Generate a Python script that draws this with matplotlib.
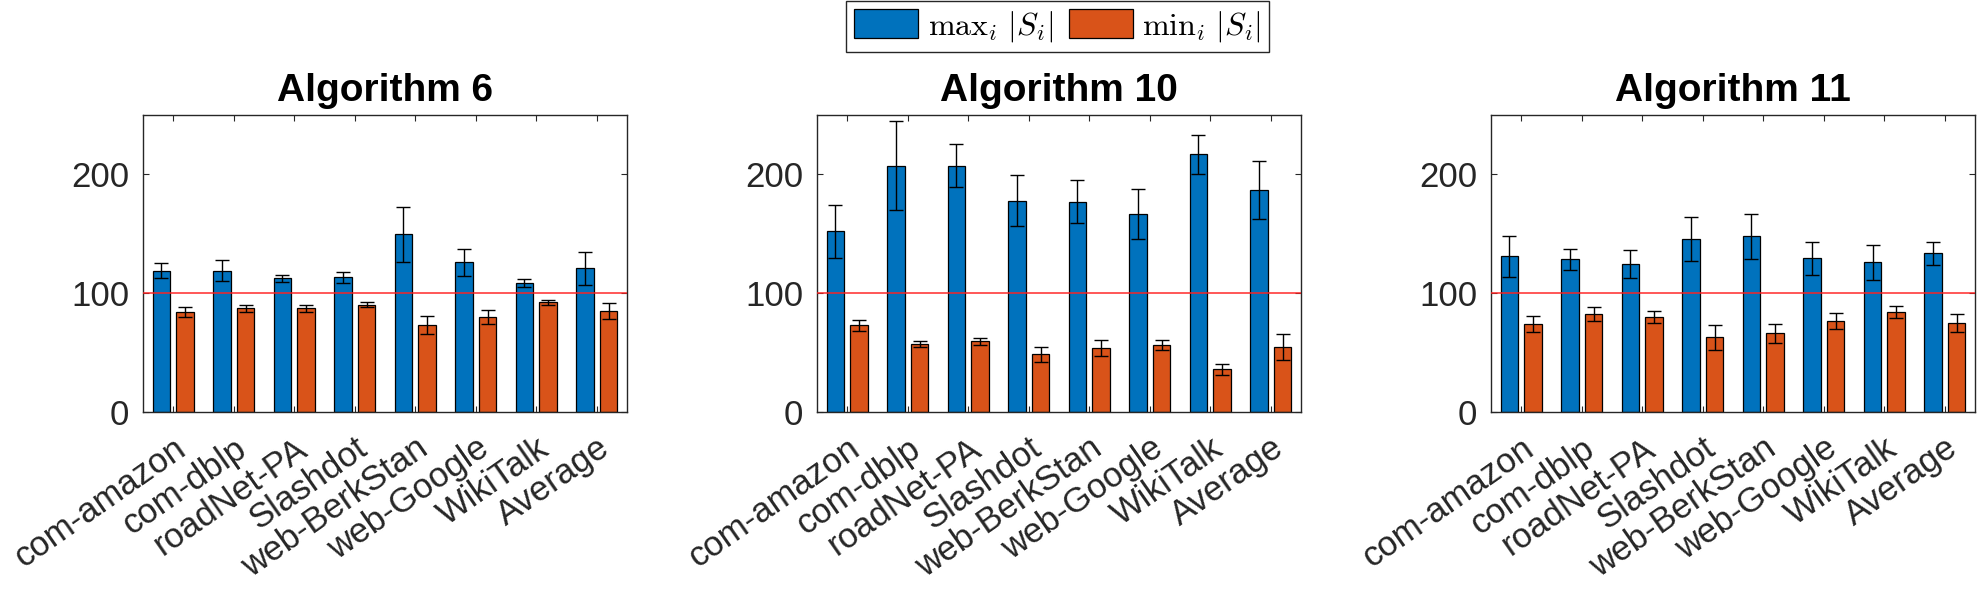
import matplotlib
matplotlib.use('Agg')
import matplotlib.pyplot as plt
import matplotlib.transforms as mtransforms
import numpy as np

plt.rcParams['font.family'] = ['Liberation Sans', 'DejaVu Sans']
plt.rcParams['mathtext.fontset'] = 'cm'

datasets = ['com-amazon', 'com-dblp', 'roadNet-PA', 'Slashdot',
            'web-BerkStan', 'web-Google', 'WikiTalk', 'Average']
titles = ['Algorithm 6', 'Algorithm 10', 'Algorithm 11']

# max_i |S_i| and min_i |S_i| with error bar half-lengths
alg6_max = [119, 119, 112.5, 113.5, 149.5, 126, 108.5, 121]
alg6_max_err = [6.5, 9, 3, 4.5, 23, 11.5, 3.5, 14]
alg6_min = [84, 87.5, 87.5, 90.5, 73, 80, 92.5, 85]
alg6_min_err = [4, 3, 3, 2.5, 7.5, 5.5, 2, 7]

alg10_max = [152, 207.5, 207.5, 178, 177, 167, 217, 187]
alg10_max_err = [22.5, 37.5, 18, 21.5, 18, 21, 16.5, 24.5]
alg10_min = [73, 57, 59.5, 48.5, 54, 56.5, 36, 55]
alg10_min_err = [4.5, 2.5, 3, 6, 7, 4.5, 4.5, 11]

alg11_max = [131, 128.5, 124.5, 145.5, 148, 129.5, 126, 133.5]
alg11_max_err = [17, 9, 11.5, 18.5, 19, 14, 15, 9.5]
alg11_min = [74, 82.5, 80, 63, 66.5, 76.5, 84, 75]
alg11_min_err = [7, 6, 5, 10.5, 8, 7, 5, 7.5]

panels = [(alg6_max, alg6_max_err, alg6_min, alg6_min_err),
          (alg10_max, alg10_max_err, alg10_min, alg10_min_err),
          (alg11_max, alg11_max_err, alg11_min, alg11_min_err)]

blue = '#0072BD'
orange = '#D95319'
axcol = '#262626'

fig = plt.figure(figsize=(19.83, 6), dpi=100)
lefts = [0.0721, 0.412, 0.7519]
x = np.arange(1, len(datasets) + 1)
w = 0.29
off = 0.195

for k in range(3):
    ax = fig.add_axes([lefts[k], 0.3133, 0.2441, 0.495])
    mx, mxe, mn, mne = panels[k]
    b1 = ax.bar(x - off, mx, w, color=blue, edgecolor='black', linewidth=0.9,
                label=r'$\mathrm{max}_i\ |S_i|$', zorder=2)
    b2 = ax.bar(x + off, mn, w, color=orange, edgecolor='black', linewidth=0.9,
                label=r'$\mathrm{min}_i\ |S_i|$', zorder=2)
    ax.errorbar(x - off, mx, yerr=mxe, fmt='none', ecolor='black', elinewidth=1,
                capsize=5, capthick=1, zorder=3)
    ax.errorbar(x + off, mn, yerr=mne, fmt='none', ecolor='black', elinewidth=1,
                capsize=5, capthick=1, zorder=3)
    ax.axhline(100, color='#ff2020', alpha=0.75, linewidth=1.4, zorder=4)
    ax.set_xlim(0.5, len(datasets) + 0.5)
    ax.set_ylim(0, 250)
    ax.set_yticks([0, 100, 200])
    ax.set_xticks(x)
    ax.set_xticklabels(datasets, rotation=35, ha='right', va='top',
                       rotation_mode='anchor', fontsize=25, color=axcol)
    shift = mtransforms.ScaledTranslation(15 / 100, 0, fig.dpi_scale_trans)
    for lab in ax.get_xticklabels():
        lab.set_transform(lab.get_transform() + shift)
    ax.tick_params(axis='x', pad=14)
    ax.tick_params(axis='y', labelsize=25, labelcolor=axcol, pad=10)
    ax.tick_params(direction='in', top=True, right=True, length=4, width=0.8,
                   colors=axcol)
    for s in ax.spines.values():
        s.set_color(axcol)
        s.set_linewidth(1)
    ax.set_title(titles[k], fontsize=28, fontweight='bold', pad=10)
    if k == 1:
        handles = [b1, b2]

fig.legend(handles, [h.get_label() for h in handles], loc='upper center',
           bbox_to_anchor=(0.5333, 0.998), ncol=2, fontsize=23, frameon=True,
           fancybox=False, edgecolor=axcol, framealpha=1, handlelength=2.0,
           handleheight=1.0, columnspacing=0.5, handletextpad=0.3,
           borderpad=0.25, borderaxespad=0)

fig.savefig('out.png', dpi=100)
